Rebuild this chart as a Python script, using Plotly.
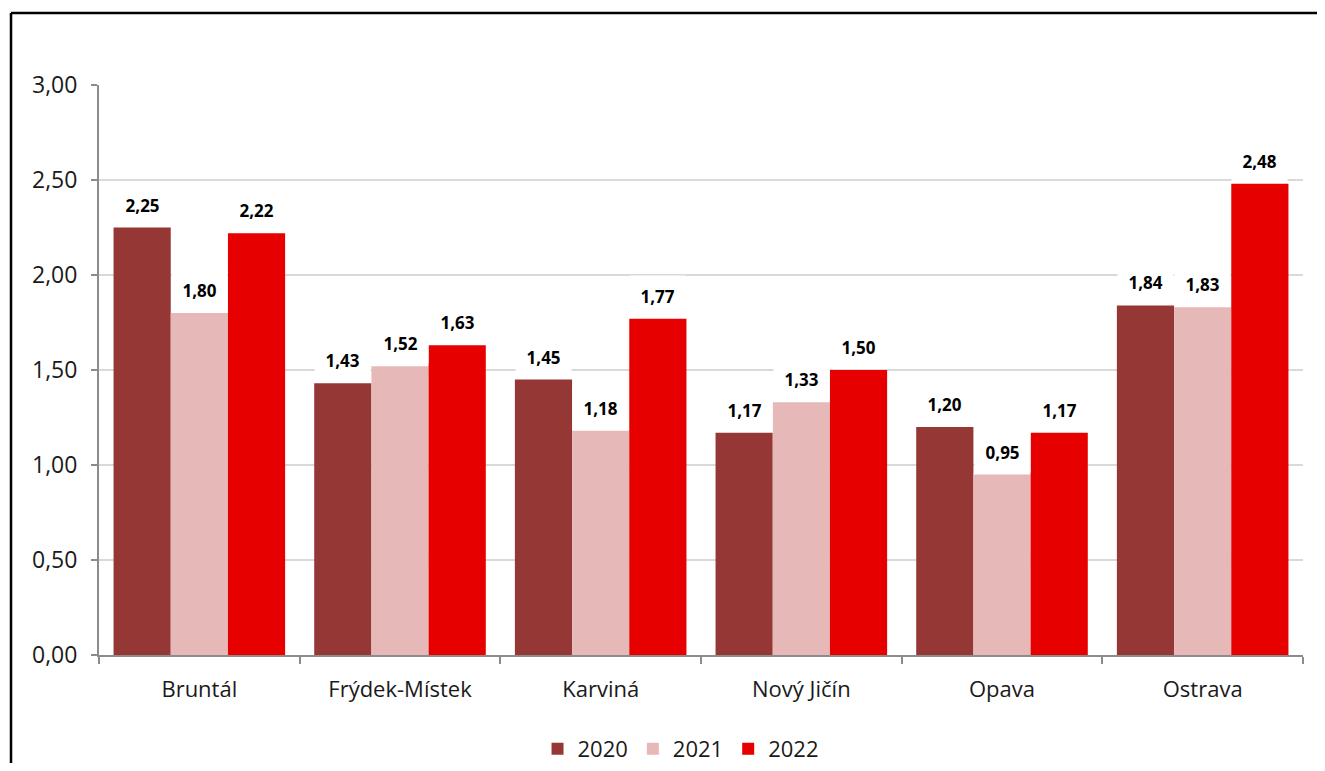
import plotly.graph_objects as go

# Data
districts = ["Bruntál", "Frýdek-Místek", "Karviná", "Nový Jičín", "Opava", "Ostrava"]
years = ["2020", "2021", "2022"]
v2020 = [2.25, 1.43, 1.45, 1.17, 1.20, 1.84]
v2021 = [1.80, 1.52, 1.18, 1.33, 0.95, 1.83]
v2022 = [2.22, 1.63, 1.77, 1.50, 1.17, 2.48]
colors = ["#953735", "#E6B9B8", "#E60000"]

FONT = "'Open Sans', 'DejaVu Sans', sans-serif"
# the page adds an 8px body margin, so the figure is a bit smaller than the window
W, H = 1317, 755
L, R, T, B = 91, 22, 77, 107.5
plot_w = W - L - R
plot_h = H - T - B

fig = go.Figure()
for name, vals, col in zip(years, [v2020, v2021, v2022], colors):
    fig.add_trace(go.Bar(
        x=districts, y=vals, name=name,
        marker=dict(color=col, line=dict(width=0)),
    ))

# data labels on white boxes (Excel style)
bar_px = plot_w / len(districts) * 0.855 / 3
for i, vals in enumerate([v2020, v2021, v2022]):
    for d, v in zip(districts, vals):
        fig.add_annotation(
            x=d, y=v, xref="x", yref="y",
            text="<b>" + f"{v:.2f}".replace(".", ",") + "</b>",
            showarrow=False, yanchor="bottom",
            xshift=(i - 1) * bar_px, yshift=2,
            width=bar_px - 4, height=38, borderpad=1,
            bgcolor="white",
            font=dict(family=FONT, size=17, color="black"),
        )

# outer frame: only its left and top edges fall inside the picture
frame = dict(color="black", width=2.5)
fig.add_shape(type="line", xref="paper", yref="paper",
              x0=(3 - L) / plot_w, x1=(3 - L) / plot_w,
              y0=-0.5, y1=(H - B - 5) / plot_h, line=frame, layer="below")
fig.add_shape(type="line", xref="paper", yref="paper",
              x0=(3 - L) / plot_w, x1=(W - L) / plot_w,
              y0=(H - B - 5) / plot_h, y1=(H - B - 5) / plot_h, line=frame, layer="below")

fig.update_layout(
    width=W, height=H,
    separators=",.",
    barmode="group", bargap=0.145, bargroupgap=0,
    paper_bgcolor="white", plot_bgcolor="white",
    margin=dict(l=L, r=R, t=T, b=B, autoexpand=False),
    font=dict(family=FONT, size=22, color="#1a1a1a"),
    showlegend=True,
    legend=dict(orientation="h", x=0.483, xanchor="center", y=-0.128, yanchor="top",
                font=dict(size=22), itemwidth=30, traceorder="normal",
                tracegroupgap=0),
)
fig.update_yaxes(
    range=[0, 3], dtick=0.5, tickformat=".2f",
    tickfont=dict(size=23),
    showgrid=True, gridcolor="#D9D9D9", gridwidth=1.5,
    showline=True, linecolor="#8C8C8C", linewidth=2,
    ticks="outside", ticklen=6, tickcolor="#8C8C8C", tickwidth=2,
    zeroline=False, ticklabelstandoff=9,
)
fig.update_xaxes(
    showline=True, linecolor="#8C8C8C", linewidth=2,
    ticks="outside", ticklen=7, tickcolor="#8C8C8C", tickwidth=2,
    tickson="boundaries", ticklabelstandoff=14,
)

fig.write_html("out.html")
